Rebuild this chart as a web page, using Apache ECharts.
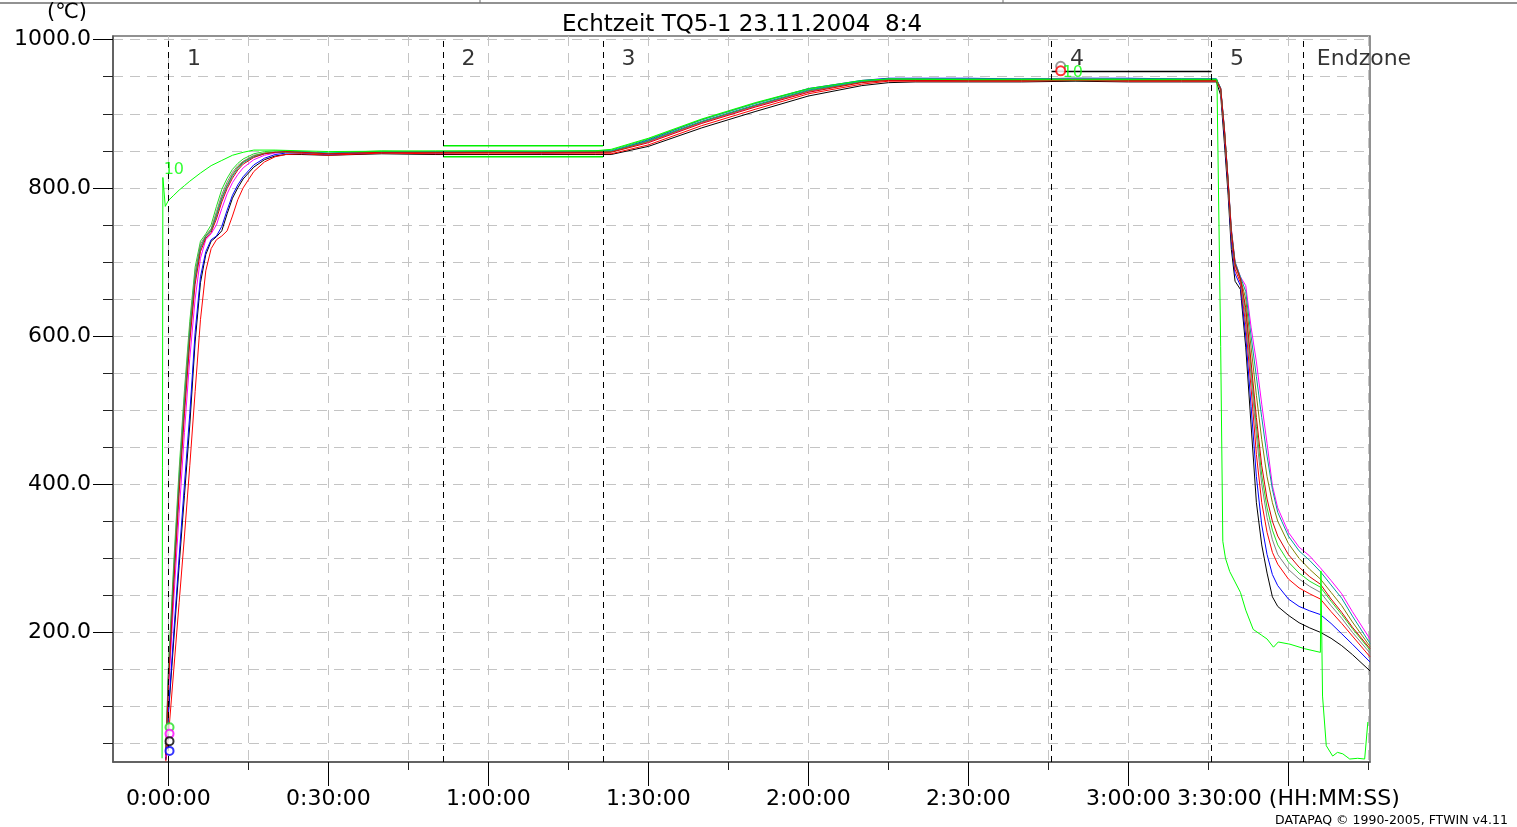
<!DOCTYPE html>
<html>
<head>
<meta charset="utf-8">
<title>Echtzeit TQ5-1</title>
<script src="https://cdn.jsdelivr.net/npm/echarts@6.0.0/dist/echarts.min.js"></script>
<style>
html, body {margin: 0; padding: 0; background: #fff;}
#chart {width: 1517px; height: 827px;}
</style>
</head>
<body>
<div id="chart"></div>
<script>
// Zeit in Minuten
var times = [-0.5, 0, 1, 2, 3, 4, 5, 6, 7, 8, 9, 10, 11, 12, 13, 14, 16, 18, 20, 22, 25,
	30, 40, 50, 60, 70, 80,
	83, 90, 100, 110, 120, 130, 135, 140,
	150, 160, 170, 180, 190,
	196.5, 197.3, 198, 198.7, 199.3, 200, 201, 202, 203, 204, 205, 206, 207, 208, 210, 212, 214, 216, 218, 220, 222, 225.3]

var ch1 = [28, 90, 190, 290, 385, 480, 592, 672, 710, 728, 734, 742, 765, 786, 800, 812, 828, 838, 843, 845, 845,
	844, 846, 845, 845, 845, 845,
	845, 856, 881, 903, 924, 938, 942, 943,
	943, 943, 944, 943, 943,
	943, 925, 860, 790, 717, 674, 663, 585, 480, 375, 318, 280, 248, 235, 223, 213, 206, 200, 192, 182, 170, 148]
var ch2 = [28, 95, 200, 302, 400, 495, 605, 680, 714, 730, 735, 748, 770, 790, 804, 815, 831, 840, 845, 847, 847,
	845, 848, 847, 848, 847, 848,
	849, 865, 892, 914, 934, 945, 948, 948,
	948, 947, 948, 948, 947,
	947, 932, 870, 800, 728, 684, 668, 600, 505, 410, 345, 305, 278, 263, 245, 235, 229, 224, 212, 198, 184, 160]
var ch3 = [26, 60, 150, 240, 330, 425, 525, 622, 688, 718, 730, 735, 742, 762, 784, 800, 822, 835, 842, 845, 846,
	844, 847, 846, 846, 846, 846,
	846, 858, 884, 906, 927, 940, 944, 944,
	944, 944, 945, 944, 944,
	944, 933, 875, 805, 735, 690, 672, 615, 530, 440, 375, 335, 308, 292, 272, 260, 252, 245, 228, 212, 195, 167]
var ch4 = [40, 155, 295, 420, 527, 620, 693, 728, 738, 750, 775, 798, 813, 825, 833, 839, 846, 849, 850, 850, 849,
	847, 850, 849, 850, 849, 850,
	851, 866, 892, 914, 933, 944, 947, 947,
	947, 947, 948, 947, 947,
	947, 933, 878, 808, 740, 697, 678, 632, 555, 478, 412, 368, 338, 318, 295, 280, 269, 261, 242, 224, 205, 176]
var ch5 = [32, 120, 245, 360, 470, 570, 650, 705, 730, 738, 750, 772, 792, 807, 818, 827, 838, 844, 847, 848, 848,
	846, 849, 848, 849, 848, 849,
	849, 862, 888, 910, 930, 943, 946, 946,
	946, 946, 947, 946, 946,
	946, 935, 880, 810, 745, 700, 680, 668, 612, 565, 508, 455, 398, 368, 335, 315, 303, 287, 270, 252, 228, 191]
var ch6 = [38, 148, 285, 410, 518, 612, 686, 724, 736, 745, 768, 791, 808, 821, 830, 836, 844, 847, 848, 849, 848,
	846, 849, 848, 849, 848, 849,
	849, 863, 889, 911, 931, 943, 946, 946,
	946, 946, 946, 946, 946,
	946, 933, 877, 807, 738, 695, 676, 625, 545, 465, 400, 355, 325, 305, 285, 272, 262, 254, 236, 219, 200, 172]
var ch7 = [36, 140, 278, 402, 510, 605, 680, 720, 735, 743, 764, 787, 804, 818, 828, 835, 843, 847, 848, 848, 848,
	846, 849, 848, 848, 848, 849,
	849, 863, 889, 911, 931, 943, 946, 946,
	946, 946, 946, 946, 946,
	946, 934, 879, 809, 742, 698, 678, 650, 585, 520, 460, 410, 375, 350, 320, 300, 285, 272, 254, 236, 214, 181]
var ch8 = [35, 138, 275, 398, 506, 601, 677, 718, 734, 742, 762, 785, 802, 816, 826, 834, 842, 846, 848, 849, 849,
	847, 849, 849, 849, 849, 850,
	850, 864, 890, 912, 932, 944, 947, 947,
	947, 947, 947, 947, 947,
	947, 935, 880, 810, 744, 700, 680, 660, 600, 545, 490, 438, 393, 362, 330, 310, 297, 282, 264, 246, 222, 185]
var ch9 = [34, 130, 265, 388, 495, 592, 670, 714, 732, 740, 758, 781, 799, 813, 824, 832, 841, 846, 848, 849, 848,
	846, 848, 848, 848, 848, 848,
	848, 861, 887, 909, 929, 942, 945, 945,
	945, 945, 946, 945, 945,
	945, 934, 878, 808, 741, 697, 677, 638, 565, 490, 425, 380, 350, 330, 305, 288, 275, 265, 245, 227, 207, 178]

// Fuehler 10 hat eigene Zeitpunkte
var t10 = [-1.2, -1.05, -0.6, 0, 1, 2, 3, 4, 6, 8, 10, 12, 14, 16, 20, 30, 50, 80, 83, 90,
	100, 110, 120, 130, 135, 150, 180, 196.6, 197.3, 197.6, 197.7, 198.2, 199, 200, 201, 202, 203.4, 205, 206, 207.2,
	208.1, 210.3, 213, 216, 216.1, 216.4, 217.1, 218.3, 219.2, 220.2, 221.5, 223, 224.3, 224.9]
var ch10 = [30, 814, 775, 783, 790, 797, 803, 809, 820, 830, 837, 844, 848, 851, 851, 849, 850, 850, 852, 867,
	893, 915, 934, 945, 947, 946, 946, 946, 586, 586, 323, 300, 282, 268, 254, 230, 204, 196, 191, 180,
	187, 184, 178, 173, 283, 114, 47, 33, 38, 36, 29, 30, 29, 79]

var zoneTimes = [0, 51.5, 81.5, 165.6, 195.6, 212.8]
var zoneNames = ['1', '2', '3', '4', '5', 'Endzone']
var zone2Band = [842, 857]
var zone4Limit = 957

var startMarkV = [72, 63, 53, 40]
var peakTime = 167.3
var peakMarkV = [964, 958]

var xGridTicks = [0, 15, 30, 45, 60, 75, 90, 105, 120, 135, 150, 165, 180, 195, 210, 225]
var xLabelTicks = [0, 30, 60, 90, 120, 150, 180, 210]
var yGridTicks = [50, 100, 150, 200, 250, 300, 350, 400, 450, 500, 550, 600, 650, 700, 750, 800, 850, 900, 950, 1000]
var yLabelTicks = [200, 400, 600, 800, 1000]

var main = {
	init: function() {
		main.chart()
	},
	hms: function(v) {
		var h = Math.floor(v / 60)
		var m = Math.round(v - h * 60)
		var s = h + ':' + (m < 10 ? '0' : '') + m + ':00'
		return v === 210 ? s + ' (HH:MM:SS)' : s
	},
	chart: function() {
		var myChart = echarts.init(document.getElementById('chart'))
		var font = 'DejaVu Sans'
		var xMin = -10.4, xMax = 225.3, yMin = 25, yMax = 1005

		var chValues = [ch1, ch2, ch3, ch4, ch5, ch6, ch7, ch8, ch9]
		var chColors = ['#000000', '#0000ff', '#ff0000', '#22dd22', '#ff00ff', '#808080', '#808000', '#009a9a', '#d80000']
		var lineColor = ['#000000', '#0000ff', '#ff0000', '#22dd22', '#ff00ff']

		var series = []
		// Zonengrenzen + Beschriftung
		series.push({
			type: 'scatter',
			silent: true,
			symbolSize: 1,
			itemStyle: {color: 'transparent'},
			data: zoneTimes.map(function(t, i) {
				return {value: [t, 973], label: {distance: i === 5 ? 13 : 18}}
			}),
			label: {
				show: true,
				position: 'right',
				fontSize: 22,
				fontFamily: font,
				color: '#000',
				formatter: function(p) { return zoneNames[p.dataIndex] }
			},
			markLine: {
				silent: true,
				symbol: ['none', 'none'],
				label: {show: false},
				lineStyle: {color: '#000', type: [6, 5], width: 1},
				data: zoneTimes.map(function(t) { return {xAxis: t} })
			},
			z: 1
		})
		// Toleranzlinien
		zone2Band.forEach(function(v) {
			series.push({
				type: 'line', silent: true, symbol: 'none',
				lineStyle: {color: '#00ee00', width: 1.5},
				data: [[zoneTimes[1], v], [zoneTimes[2], v]],
				z: 2
			})
		})
		series.push({
			type: 'line', silent: true, symbol: 'none',
			lineStyle: {color: '#000', width: 1.5},
			data: [[zoneTimes[3], zone4Limit], [zoneTimes[4], zone4Limit]],
			z: 2
		})

		chValues.forEach(function(vals, i) {
			series.push({
				name: String(i + 1),
				type: 'line',
				silent: true,
				symbol: 'none',
				lineStyle: {width: 1, color: chColors[i]},
				data: times.map(function(t, k) { return [t, vals[k]] }),
				z: 3
			})
		})
		series.push({
			name: '10',
			type: 'line',
			silent: true,
			symbol: 'none',
			lineStyle: {width: 1, color: '#00ff00'},
			data: t10.map(function(t, k) { return [t, ch10[k]] }),
			z: 4
		})

		// Marken am Start und am Maximum
		series.push({
			type: 'scatter', silent: true,
			symbol: 'emptyCircle', symbolSize: 8,
			data: startMarkV.map(function(v, i) {
				return {value: [0.2, v], itemStyle: {color: lineColor[(i + 3) % 5]}}
			}),
			z: 5
		})
		series.push({
			type: 'scatter', silent: true,
			symbol: 'emptyCircle', symbolSize: 9,
			data: peakMarkV.map(function(v, i) {
				return {value: [peakTime, v], itemStyle: {color: i === 0 ? '#808080' : '#ff0000'}}
			}),
			z: 5
		})
		series.push({
			type: 'scatter', silent: true,
			symbolSize: 1,
			itemStyle: {color: 'transparent'},
			data: [
				{value: [t10[1], ch10[1]], label: {offset: [11, -8]}},
				{value: [peakTime, peakMarkV[1]], label: {offset: [12, 2]}}
			],
			label: {
				show: true,
				formatter: '10',
				position: 'inside',
				color: '#00ff00',
				fontSize: 16,
				fontFamily: font
			},
			z: 6
		})

		var option = {
			animation: false,
			textStyle: {fontFamily: font},
			grid: {
				left: 113,
				right: 147,
				top: 36,
				bottom: 65,
				show: true,
				borderColor: '#6e6e6e',
				borderWidth: 1.5,
				containLabel: false,
				outerBoundsMode: 'none'
			},
			xAxis: [{
				type: 'value', min: xMin, max: xMax, position: 'bottom',
				axisLine: {show: true, onZero: false, lineStyle: {color: '#555', width: 1.5}},
				axisTick: {show: true, length: 8, customValues: xGridTicks, lineStyle: {color: '#222'}},
				axisLabel: {show: false},
				splitLine: {show: true, lineStyle: {color: '#c4c4c4', type: [10, 7], width: 1}}
			}, {
				type: 'value', min: xMin, max: xMax, position: 'bottom',
				axisLine: {show: false, onZero: false},
				axisTick: {show: true, length: 24, customValues: xLabelTicks, lineStyle: {color: '#000'}},
				axisLabel: {
					show: true, customValues: xLabelTicks, margin: 26, hideOverlap: false,
					fontSize: 22, fontFamily: font, color: '#000',
					formatter: main.hms
				},
				splitLine: {show: false}
			}],
			yAxis: [{
				type: 'value', min: yMin, max: yMax, position: 'left',
				axisLine: {show: true, onZero: false, lineStyle: {color: '#555', width: 1.5}},
				axisTick: {show: true, length: 10, customValues: yGridTicks, lineStyle: {color: '#222'}},
				axisLabel: {show: false},
				splitLine: {show: true, lineStyle: {color: '#c4c4c4', type: [10, 7], width: 1}}
			}, {
				type: 'value', min: yMin, max: yMax, position: 'left',
				axisLine: {show: false, onZero: false},
				axisTick: {show: true, length: 20, customValues: yLabelTicks, lineStyle: {color: '#000'}},
				axisLabel: {
					show: true, customValues: yLabelTicks, margin: 22, hideOverlap: false,
					fontSize: 22, fontFamily: font, color: '#000',
					formatter: function(v) { return v.toFixed(1) }
				},
				splitLine: {show: false}
			}],
			graphic: [
				{type: 'line', shape: {x1: 0, y1: 3, x2: 1517, y2: 3}, style: {stroke: '#6e6e6e', lineWidth: 1.5}},
				{type: 'line', shape: {x1: 480, y1: 0, x2: 480, y2: 3}, style: {stroke: '#6e6e6e', lineWidth: 1}},
				{type: 'line', shape: {x1: 1003, y1: 0, x2: 1003, y2: 3}, style: {stroke: '#6e6e6e', lineWidth: 1}},
				{type: 'text', x: 742, y: 25, style: {
					text: 'Echtzeit TQ5-1 23.11.2004  8:4', font: '23px "DejaVu Sans"', fill: '#000',
					align: 'center', verticalAlign: 'middle', textAlign: 'center', textVerticalAlign: 'middle'
				}},
				{type: 'text', x: 67, y: 13, style: {
					text: '(℃)', font: '21px "DejaVu Sans"', fill: '#000',
					align: 'center', verticalAlign: 'middle', textAlign: 'center', textVerticalAlign: 'middle'
				}},
				{type: 'text', x: 1275, y: 821, style: {
					text: 'DATAPAQ © 1990-2005, FTWIN v4.11', font: '12.5px "DejaVu Sans"', fill: '#000',
					align: 'left', verticalAlign: 'middle', textAlign: 'left', textVerticalAlign: 'middle'
				}}
			],
			series: series
		}
		myChart.setOption(option)
	}
}

main.init()
</script>
</body>
</html>
